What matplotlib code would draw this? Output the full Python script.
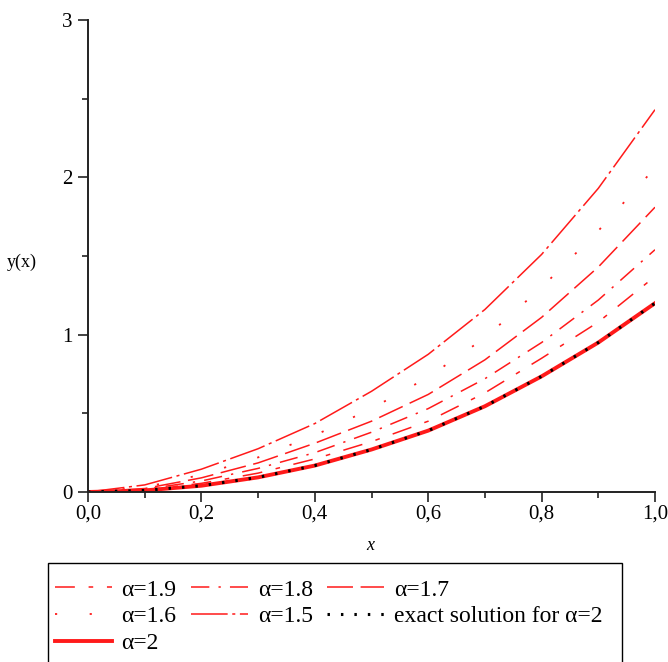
import numpy as np
import matplotlib
matplotlib.use("Agg")
import matplotlib.pyplot as plt
from matplotlib.patches import Rectangle
from matplotlib.ticker import MultipleLocator, FuncFormatter

# sample points along x
x = [0.0, 0.1, 0.2, 0.3, 0.4, 0.5, 0.6, 0.7, 0.8, 0.9, 1.0]

# approximate solutions for each fractional order
y_15 = [0, 0.045, 0.145, 0.275, 0.435, 0.64, 0.875, 1.16, 1.51, 1.93, 2.43]
y_16 = [0, 0.030, 0.110, 0.220, 0.360, 0.53, 0.730, 0.98, 1.30, 1.66, 2.06]
y_17 = [0, 0.022, 0.090, 0.185, 0.310, 0.45, 0.620, 0.84, 1.11, 1.43, 1.81]
y_18 = [0, 0.017, 0.070, 0.150, 0.250, 0.38, 0.530, 0.72, 0.95, 1.22, 1.54]
y_19 = [0, 0.013, 0.055, 0.120, 0.210, 0.32, 0.450, 0.63, 0.85, 1.08, 1.37]
y_20 = [0, 0.010, 0.040, 0.093, 0.168, 0.27, 0.390, 0.545, 0.735, 0.95, 1.20]
y_exact = [0, 0.010, 0.040, 0.093, 0.168, 0.27, 0.390, 0.545, 0.735, 0.95, 1.20]

plt.rcParams['font.family'] = ['Liberation Serif', 'DejaVu Serif']

fig = plt.figure(figsize=(6.68, 6.62), dpi=100)
ax = fig.add_axes([88/668, 1-492/662, 567/668, 472/662])

red = '#ff1a1a'
l19, = ax.plot(x, y_19, color=red, lw=1.1, dashes=(13, 9, 3, 9))
l18, = ax.plot(x, y_18, color=red, lw=1.1, dashes=(12, 6, 1.5, 6))
l17, = ax.plot(x, y_17, color=red, lw=1.1, dashes=(17, 5))
l16, = ax.plot(x, y_16, color=red, lw=1.3, dashes=(1.2, 18))
l15, = ax.plot(x, y_15, color=red, lw=1.1, dashes=(24, 3, 2, 3))
l20, = ax.plot(x, y_20, color=red, lw=2.8)
lex, = ax.plot(x, y_exact, color='black', lw=2.2, dashes=(0.8, 3.6))

ax.set_xlim(0, 1)
ax.set_ylim(0, 3)
for s in ['top', 'right']:
    ax.spines[s].set_visible(False)
for s in ['left', 'bottom']:
    ax.spines[s].set_linewidth(1.4)
    ax.spines[s].set_color('#222222')

ax.xaxis.set_major_locator(MultipleLocator(0.2))
ax.xaxis.set_minor_locator(MultipleLocator(0.1))
ax.yaxis.set_major_locator(MultipleLocator(1))
ax.yaxis.set_minor_locator(MultipleLocator(0.5))
ax.xaxis.set_major_formatter(FuncFormatter(lambda v, p: f"{v:.1f}".replace('.', ',')))
ax.yaxis.set_major_formatter(FuncFormatter(lambda v, p: f"{v:.0f}"))
ax.tick_params(which='major', length=7, width=1.2, labelsize=15, color='#222222', pad=2)
ax.tick_params(which='minor', length=4, width=1.2, color='#222222')
ax.tick_params(axis='y', which='major', pad=4)

fig.text(370/668, 1-545/662, 'x', ha='center', va='center', fontsize=13, style='italic')
fig.text(22/668, 1-262/662, 'y(x)', ha='center', va='center', fontsize=13)

# legend box runs off the bottom edge of the figure
fig.patches.append(Rectangle((48/668, -0.05), 574/668, 1-563/662+0.05,
                             transform=fig.transFigure, fill=False,
                             edgecolor='black', lw=1.0))

handles = [l19, l16, l20, l18, l15, l17, lex]
labels = ['α=1.9', 'α=1.6', 'α=2', 'α=1.8', 'α=1.5', 'α=1.7', 'exact solution for α=2']
leg = fig.legend(handles, labels, loc='upper left', bbox_to_anchor=(55/668, 1-579/662),
                 ncol=3, fontsize=17, frameon=False,
                 handlelength=2.4, handletextpad=0.42, columnspacing=0.62,
                 labelspacing=0.23, borderpad=0, borderaxespad=0)

fig.savefig('out.png', dpi=100)
